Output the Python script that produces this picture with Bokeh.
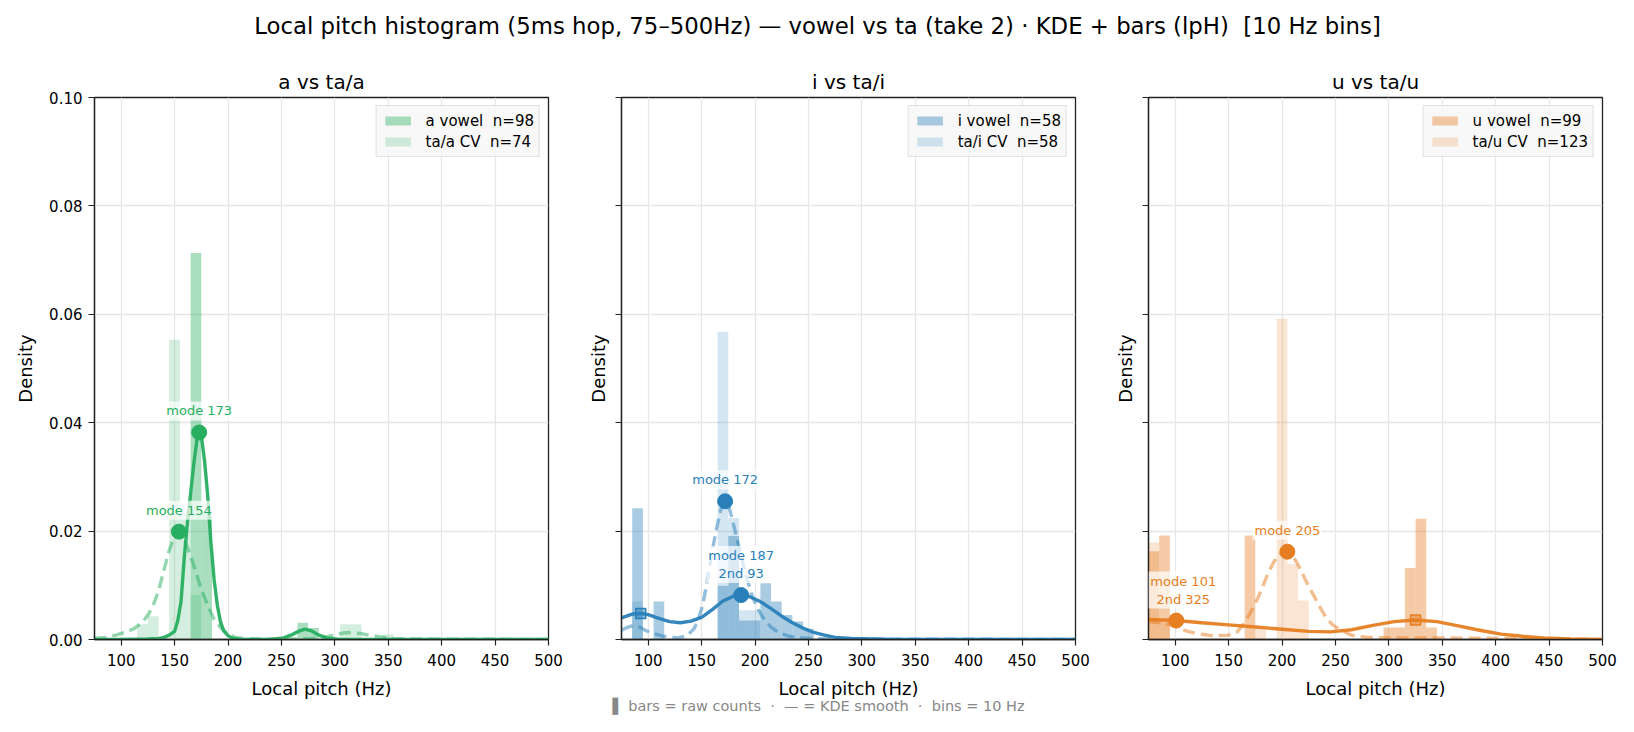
from bokeh.plotting import figure
from bokeh.layouts import column, row
from bokeh.models import (Range1d, FixedTicker, NumeralTickFormatter, Legend, LegendItem,
                          CustomJSTickFormatter, Label, LinearAxis)
from bokeh.core.properties import value
from bokeh.embed import file_html
from bokeh.resources import INLINE

FONT = "DejaVu Sans"
BIN_W = 10
X_TICKS = [100, 150, 200, 250, 300, 350, 400, 450, 500]
Y_TICKS = [0.0, 0.02, 0.04, 0.06, 0.08, 0.10]
NB = "\u00a0"

SUPTITLE = ("Local pitch histogram (5ms hop, 75\u2013500Hz) \u2014 vowel vs ta (take 2) \u00b7 "
            "KDE + bars (lpH) " + NB + "[10 Hz bins]")
FOOTER = ("\u258c bars = raw counts " + NB + "\u00b7 " + NB + "\u2014 = KDE smooth " + NB +
          "\u00b7 " + NB + "bins = 10 Hz")
FOOTER_SHIFT = NB * 13   # trailing spacing so the note centres on the page, not the middle panel

GREEN = "#27ae60"
BLUE = "#2980b9"
ORANGE = "#e67e22"

# ---------------- panel a ----------------
a_vowel_bins = [165, 175, 265, 275]
a_vowel_h = [0.0713, 0.0235, 0.0031, 0.0021]
a_ta_bins = [115, 125, 145, 155, 165, 305, 315, 345]
a_ta_h = [0.0028, 0.0043, 0.0553, 0.0235, 0.0082, 0.0028, 0.0028, 0.0009]

a_vk_x = [75, 100, 125, 135, 140, 145, 150, 153, 156, 159, 162, 165, 168, 171, 173, 175, 178, 181,
          184, 187, 190, 193, 196, 200, 205, 212, 240, 252, 260, 266, 272, 278, 284, 292, 305, 500]
a_vk_y = [0.0, 0.0, 0.0001, 0.0002, 0.0004, 0.0008, 0.0015, 0.0035, 0.0070, 0.0150, 0.0215, 0.0270,
          0.0325, 0.0370, 0.0382, 0.0376, 0.0330, 0.0265, 0.0178, 0.0110, 0.0063, 0.0032, 0.0016,
          0.0007, 0.0002, 0.0, 0.0, 0.0003, 0.0009, 0.0015, 0.0019, 0.0016, 0.0009, 0.0003, 0.0, 0.0]

a_tk_x = [75, 85, 95, 105, 112, 120, 125, 130, 135, 140, 145, 150, 154, 158, 162, 166, 170, 175,
          181, 187, 194, 200, 207, 215, 230, 260, 280, 292, 300, 308, 316, 324, 332, 342, 355, 370, 500]
a_tk_y = [0.0002, 0.0004, 0.0008, 0.0014, 0.0020, 0.0032, 0.0045, 0.0063, 0.0090, 0.0128, 0.0165,
          0.0192, 0.0199, 0.0190, 0.0170, 0.0148, 0.0124, 0.0092, 0.0063, 0.0037, 0.0020, 0.0010,
          0.0004, 0.0002, 0.0001, 0.0001, 0.0002, 0.0005, 0.0009, 0.0012, 0.0013, 0.0011, 0.0008,
          0.0005, 0.0002, 0.0001, 0.0]

a_v_mode = (173, 0.0382)
a_t_mode = (154, 0.0199)
a_v_label = "mode 173"
a_t_label = "mode 154"
a_second = None

# ---------------- panel i ----------------
i_vowel_bins = [85, 105, 165, 175, 185, 195, 205, 215, 225, 235, 245]
i_vowel_h = [0.0242, 0.0070, 0.0099, 0.0191, 0.0035, 0.0035, 0.0104, 0.0070, 0.0045, 0.0033, 0.0020]
i_ta_bins = [85, 165, 175, 185, 195]
i_ta_h = [0.0070, 0.0568, 0.0224, 0.0054, 0.0054]

i_vk_x = [75, 85, 93, 100, 110, 120, 130, 140, 150, 160, 170, 180, 187, 195, 205, 215, 225, 235,
          245, 255, 265, 275, 290, 310, 330, 500]
i_vk_y = [0.0040, 0.0047, 0.0048, 0.0046, 0.0039, 0.0033, 0.0031, 0.0034, 0.0041, 0.0055, 0.0071,
          0.0080, 0.0082, 0.0079, 0.0070, 0.0057, 0.0043, 0.0031, 0.0021, 0.0013, 0.0008, 0.0004,
          0.0002, 0.0001, 0.0, 0.0]

i_tk_x = [75, 80, 86, 92, 97, 105, 112, 120, 128, 136, 143, 147, 151, 155, 159, 164, 168, 172, 175,
          178, 182, 186, 191, 197, 203, 209, 215, 222, 230, 238, 250, 270, 500]
i_tk_y = [0.0017, 0.0022, 0.0026, 0.0023, 0.0017, 0.0011, 0.0007, 0.0004, 0.0003, 0.0007, 0.0020,
          0.0038, 0.0063, 0.0105, 0.0154, 0.0205, 0.0240, 0.0255, 0.0249, 0.0227, 0.0195, 0.0163,
          0.0122, 0.0082, 0.0055, 0.0036, 0.0023, 0.0013, 0.0007, 0.0004, 0.0002, 0.0001, 0.0]

i_v_mode = (187, 0.0082)
i_t_mode = (172, 0.0255)
i_v_label = "mode 187\n2nd 93"
i_t_label = "mode 172"
i_second = (93, 0.0048)

# ---------------- panel u ----------------
u_vowel_bins = [75, 85, 165, 295, 305, 315, 325, 335]
u_vowel_h = [0.0163, 0.0192, 0.0192, 0.0022, 0.0022, 0.0132, 0.0223, 0.0022]
u_ta_bins = [75, 85, 175, 195, 205, 215]
u_ta_h = [0.0179, 0.0035, 0.0019, 0.0592, 0.0139, 0.0072]

u_vk_x = [75, 90, 101, 125, 150, 175, 200, 225, 245, 265, 285, 305, 325, 345, 365, 385, 405, 425,
          445, 470, 500]
u_vk_y = [0.0037, 0.0036, 0.0035, 0.0031, 0.0027, 0.0023, 0.0019, 0.0015, 0.0014, 0.0018, 0.0026,
          0.0033, 0.0036, 0.0033, 0.0025, 0.0017, 0.0010, 0.0006, 0.0003, 0.0001, 0.0]

u_tk_x = [75, 90, 100, 110, 120, 135, 150, 158, 163, 167, 172, 177, 181, 186, 192, 197, 201, 205,
          209, 213, 217, 222, 226, 230, 236, 242, 248, 255, 265, 280, 300, 350, 400, 450, 500]
u_tk_y = [0.0033, 0.0030, 0.0024, 0.0016, 0.0011, 0.0007, 0.0008, 0.0014, 0.0026, 0.0038, 0.0055,
          0.0075, 0.0093, 0.0118, 0.0142, 0.0156, 0.0161, 0.0162, 0.0156, 0.0145, 0.0130, 0.0110,
          0.0094, 0.0080, 0.0058, 0.0038, 0.0026, 0.0017, 0.0008, 0.0004, 0.0003, 0.0003, 0.0002,
          0.0001, 0.0]

u_v_mode = (101, 0.0035)
u_t_mode = (205, 0.0162)
u_v_label = "mode 101\n2nd 325"
u_t_label = "mode 205"
u_second = (325, 0.0036)


def make_panel(title, color, vb, vh, tb, th, vkx, vky, tkx, tky, v_mode, t_mode, v_label, t_label,
               second, vname, tname, first, ml, mr, v_label_dx=0):
    p = figure(frame_width=454, frame_height=542, x_range=Range1d(75, 500), y_range=Range1d(0, 0.1),
               output_backend="svg", toolbar_location=None,
               min_border_left=ml, min_border_right=mr, min_border_top=49, min_border_bottom=90,
               background_fill_color="white", border_fill_color="white")
    p.outline_line_color = "#222222"
    p.outline_line_width = 1.3

    p.title.text = title
    p.title.align = "center"
    p.title.text_font = FONT
    p.title.text_font_size = "20px"
    p.title.text_font_style = "normal"
    p.title.text_color = "black"
    p.title.standoff = 8

    p.xaxis.ticker = FixedTicker(ticks=X_TICKS)
    p.yaxis.ticker = FixedTicker(ticks=Y_TICKS)
    p.xaxis.axis_label = "Local pitch (Hz)"
    p.yaxis.axis_label = "Density"
    for ax in (p.xaxis[0], p.yaxis[0]):
        ax.axis_line_color = "#222222"
        ax.axis_line_width = 1.3
        ax.major_tick_line_color = "#222222"
        ax.major_tick_line_width = 1.2
        ax.major_tick_out = 6
        ax.major_tick_in = 0
        ax.minor_tick_line_color = None
        ax.major_label_text_font = FONT
        ax.major_label_text_font_size = "15px"
        ax.major_label_text_color = "black"
        ax.axis_label_text_font = FONT
        ax.axis_label_text_font_size = "18px"
        ax.axis_label_text_font_style = "normal"
        ax.axis_label_text_color = "black"
    p.xaxis.major_label_standoff = 8
    p.xaxis.axis_label_standoff = 9
    if first:
        p.yaxis.formatter = NumeralTickFormatter(format="0.00")
        p.yaxis.major_label_standoff = 6
        p.yaxis.axis_label_standoff = 10
    else:
        p.yaxis.formatter = CustomJSTickFormatter(code="return '';")
        p.yaxis.major_label_standoff = 0
        p.yaxis.axis_label_standoff = 7

    p.xgrid.grid_line_color = "#e6e6e6"
    p.ygrid.grid_line_color = "#e6e6e6"
    p.xgrid.grid_line_width = 1.3
    p.ygrid.grid_line_width = 1.3

    rv = p.quad(left=vb, right=[b + BIN_W for b in vb], top=vh, bottom=0,
                fill_color=color, fill_alpha=0.4, line_color=None)
    rt = p.quad(left=tb, right=[b + BIN_W for b in tb], top=th, bottom=0,
                fill_color=color, fill_alpha=0.2, line_color=None)

    p.line(tkx, tky, line_color=color, line_width=3.4, line_alpha=0.5, line_dash="12 6")
    p.line(vkx, vky, line_color=color, line_width=3.4, line_alpha=0.95)

    if second is not None:
        p.scatter([second[0]], [second[1]], marker="square", size=10, fill_color=color,
                  fill_alpha=0.5, line_color=color, line_width=1.5)
    p.scatter([v_mode[0], t_mode[0]], [v_mode[1], t_mode[1]], marker="circle", size=15,
              fill_color=color, line_color=color)

    for (mx, my), txt, dx in ((v_mode, v_label, v_label_dx), (t_mode, t_label, 0)):
        p.add_layout(Label(x=mx, y=my, text=txt, text_color=color, text_font=FONT,
                           text_font_size="13px", text_align="center", text_baseline="bottom",
                           x_offset=dx, y_offset=12, background_fill_color="white",
                           background_fill_alpha=0.7, padding=2))

    legend = Legend(items=[LegendItem(label=vname, renderers=[rv]),
                           LegendItem(label=tname, renderers=[rt])],
                    location="top_right")
    legend.label_text_font = FONT
    legend.label_text_font_size = "15px"
    legend.label_text_color = "black"
    legend.glyph_width = 32
    legend.glyph_height = 11
    legend.label_height = 19
    legend.label_standoff = 12
    legend.spacing = 2
    legend.padding = 5
    legend.margin = 8
    legend.border_line_color = "#cccccc"
    legend.border_line_width = 1
    legend.background_fill_color = "#f7f7f7"
    legend.background_fill_alpha = 0.9
    p.add_layout(legend)
    return p


p1 = make_panel("a vs ta/a", GREEN, a_vowel_bins, a_vowel_h, a_ta_bins, a_ta_h, a_vk_x, a_vk_y,
                a_tk_x, a_tk_y, a_v_mode, a_t_mode, a_v_label, a_t_label, a_second,
                "a vowel " + NB + "n=98", "ta/a CV " + NB + "n=74", True, 94, 16)
p2 = make_panel("i vs ta/i", BLUE, i_vowel_bins, i_vowel_h, i_ta_bins, i_ta_h, i_vk_x, i_vk_y,
                i_tk_x, i_tk_y, i_v_mode, i_t_mode, i_v_label, i_t_label, i_second,
                "i vowel " + NB + "n=58", "ta/i CV " + NB + "n=58", False, 57, 16)
p3 = make_panel("u vs ta/u", ORANGE, u_vowel_bins, u_vowel_h, u_ta_bins, u_ta_h, u_vk_x, u_vk_y,
                u_tk_x, u_tk_y, u_v_mode, u_t_mode, u_v_label, u_t_label, u_second,
                "u vowel " + NB + "n=99", "ta/u CV " + NB + "n=123", False, 57, 32,
                v_label_dx=7)

# footer note: an empty extra axis under the middle panel carries it as its label
fax = LinearAxis(axis_label=FOOTER + FOOTER_SHIFT, ticker=FixedTicker(ticks=[]),
                 formatter=CustomJSTickFormatter(code="return '';"))
fax.axis_line_color = None
fax.major_tick_line_color = None
fax.minor_tick_line_color = None
fax.major_tick_out = 0
fax.major_tick_in = 0
fax.major_label_standoff = 0
fax.axis_label_standoff = -4
fax.axis_label_text_color = "#888888"
fax.axis_label_text_font = FONT
fax.axis_label_text_font_size = "14.5px"
fax.axis_label_text_font_style = "normal"
p2.add_layout(fax, "below")

# title strip
tf = figure(width=1634, height=48, x_range=Range1d(0, 1634), y_range=Range1d(0, 48),
            output_backend="svg", toolbar_location=None, x_axis_location=None,
            y_axis_location=None, min_border=0, outline_line_color=None)
tf.xgrid.visible = False
tf.ygrid.visible = False
tf.text(x=[817], y=[23], text=[SUPTITLE], text_font=value(FONT), text_font_size="22.8px",
        text_color="black", text_align="center", text_baseline="middle")

layout = column(tf, row(p1, p2, p3))
open("out.html", "w").write(file_html(layout, INLINE))
